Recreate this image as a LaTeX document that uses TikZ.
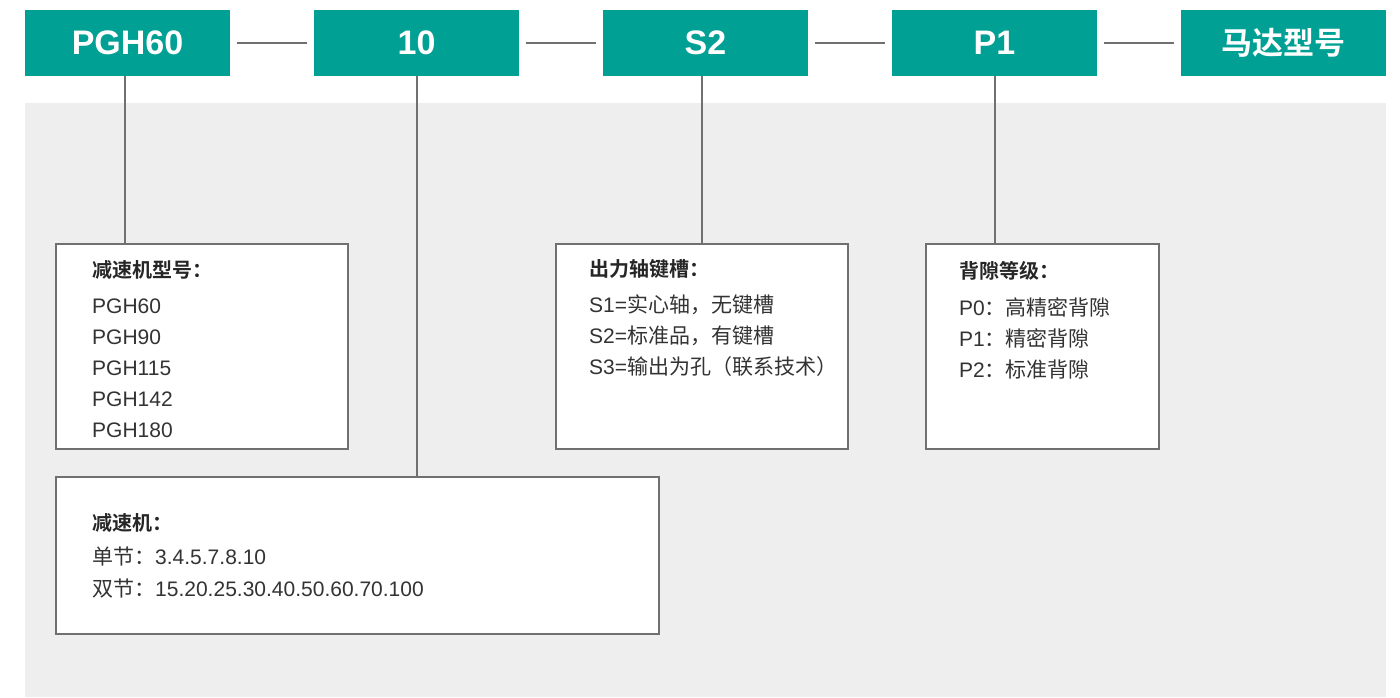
\documentclass[tikz,border=0pt]{standalone}
\usepackage{fontspec}
\setmainfont{Noto Sans CJK SC}[BoldFont={Noto Sans CJK SC Bold}]
\newfontfamily\lat{Liberation Sans}
\definecolor{teal1}{HTML}{00A094}
\definecolor{bg1}{HTML}{EEEEEE}
\definecolor{ln1}{HTML}{707070}
\definecolor{tx1}{HTML}{333333}
\begin{document}
\begin{tikzpicture}[x=1pt,y=-1pt,
  topbox/.style={fill=teal1,text=white,minimum width=205pt,minimum height=66pt,inner sep=0pt,
     font=\lat\bfseries\fontsize{34}{38}\selectfont},
  infobox/.style={draw=ln1,line width=1.8pt,fill=white},
  conn/.style={draw=ln1,line width=1.6pt},
  ttl/.style={anchor=base west,inner sep=0pt,text=black!85,font=\bfseries\fontsize{20}{24}\selectfont},
  itm/.style={anchor=base west,inner sep=0pt,text=tx1,font=\fontsize{21}{25}\selectfont}]
\useasboundingbox (0,0) rectangle (1400,697);
\fill[white] (0,0) rectangle (1400,697);
\fill[bg1] (25,103) rectangle (1386,697);
% top boxes
\node[topbox] (t1) at (127.5,43) {PGH60};
\node[topbox] (t2) at (416.5,43) {10};
\node[topbox] (t3) at (705.5,43) {S2};
\node[topbox] (t4) at (994.5,43) {P1};
\node[topbox] (t5) at (1283.5,43) {\normalfont\bfseries\fontsize{31}{35}\selectfont 马达型号};
\foreach \a/\b in {t1/t2,t2/t3,t3/t4,t4/t5}
  \draw[conn] ([xshift=7pt]\a.east) -- ([xshift=-7pt]\b.west);
% info boxes
\node[infobox,minimum width=292pt,minimum height=205pt] (b1) at (202,346.5) {};
\node[infobox,minimum width=292pt,minimum height=205pt] (b3) at (702,346.5) {};
\node[infobox,minimum width=233pt,minimum height=205pt] (b4) at (1042.5,346.5) {};
\node[infobox,minimum width=603pt,minimum height=157pt] (b2) at (357.5,555.5) {};
% vertical connectors
\draw[conn] (t1.south -| 125,0) -- (b1.north -| 125,0);
\draw[conn] (t2.south -| 417,0) -- (b2.north -| 417,0);
\draw[conn] (t3.south -| 702,0) -- (b3.north);
\draw[conn] (t4.south -| 995,0) -- (b4.north -| 995,0);
% box 1 text
\node[ttl] (b1t) at (92,277) {减速机型号：};
\node[itm] (b1a) at (92,313) {\lat PGH60};
\node[itm] (b1b) at (92,344) {\lat PGH90};
\node[itm] (b1c) at (92,375) {\lat PGH115};
\node[itm] (b1d) at (92,406) {\lat PGH142};
\node[itm] (b1e) at (92,437) {\lat PGH180};
% box 3 text
\node[ttl] (b3t) at (589,276) {出力轴键槽：};
\node[itm] (b3a) at (589,312) {{\lat S1=}实心轴，无键槽};
\node[itm] (b3b) at (589,343) {{\lat S2=}标准品，有键槽};
\node[itm] (b3c) at (589,374) {{\lat S3=}输出为孔（联系技术）};
% box 4 text
\node[ttl] (b4t) at (959,278) {背隙等级：};
\node[itm] (b4a) at (959,315) {{\lat P0}：高精密背隙};
\node[itm] (b4b) at (959,346) {{\lat P1}：精密背隙};
\node[itm] (b4c) at (959,377) {{\lat P2}：标准背隙};
% box 2 text
\node[ttl] (b2t) at (92,530) {减速机：};
\node[itm] (b2a) at (92,564) {单节：{\lat 3.4.5.7.8.10}};
\node[itm] (b2b) at (92,596) {双节：{\lat 15.20.25.30.40.50.60.70.100}};
\end{tikzpicture}
\end{document}
